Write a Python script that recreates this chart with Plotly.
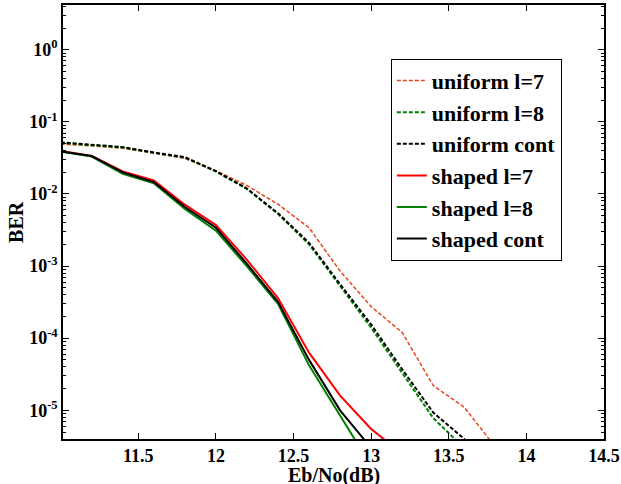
import plotly.graph_objects as go

ebno = [11.0, 11.2, 11.4, 11.6, 11.8, 12.0, 12.2, 12.4, 12.6, 12.8, 13.0, 13.2, 13.4, 13.6, 13.8]

uniform_l7 = [0.049, 0.0465, 0.043, 0.037, 0.031, 0.021, 0.0131, 0.0072, 0.0034, 0.00085, 0.000274, 0.00012, 2.2e-5, 1.1e-5, 3.1e-6]
uniform_l8 = [0.051, 0.0475, 0.044, 0.037, 0.032, 0.0205, 0.0117, 0.0053, 0.0020, 0.00053, 0.00014, 3.3e-5, 7.8e-6, 3.0e-6, 1.0e-6]
uniform_cont = [0.052, 0.048, 0.0446, 0.0376, 0.0324, 0.0207, 0.0119, 0.0054, 0.0021, 0.00056, 0.000155, 3.7e-5, 9.3e-6, 4.0e-6, 1.2e-6]
shaped_l7 = [0.0395, 0.0335, 0.0205, 0.0154, 0.0071, 0.0037, 0.00122, 0.00036, 6.3e-5, 1.6e-5, 5.5e-6, 2.5e-6]
shaped_l8 = [0.0385, 0.033, 0.019, 0.0141, 0.0062, 0.0031, 0.00099, 0.0003, 4.2e-5, 8.3e-6, 1.7e-6]
shaped_cont = [0.039, 0.0335, 0.0199, 0.0146, 0.0066, 0.0034, 0.00107, 0.00032, 5.0e-5, 1.0e-5, 3.0e-6]

x_ticks = [11.5, 12, 12.5, 13, 13.5, 14, 14.5]
x_ticklabels = ["11.5", "12", "12.5", "13", "13.5", "14", "14.5"]
y_exponents = [0, -1, -2, -3, -4, -5]

X_RANGE = [11.015, 14.5]
Y_RANGE = [-5.398, 0.62]

series = [
    ("uniform l=7", uniform_l7, "#e8461e", "4px,2px", 1.5),
    ("uniform l=8", uniform_l8, "#008000", "4px,2px", 2),
    ("uniform cont", uniform_cont, "black", "4px,2px", 2),
    ("shaped l=7", shaped_l7, "#ff0000", "solid", 2),
    ("shaped l=8", shaped_l8, "#008000", "solid", 2),
    ("shaped cont", shaped_cont, "black", "solid", 2),
]

fig = go.Figure()
for name, vals, color, dash, w in series:
    fig.add_trace(go.Scatter(
        x=ebno[:len(vals)], y=vals, mode="lines", name=name,
        line=dict(color=color, dash=dash, width=w),
    ))

y_tickvals = [10.0 ** e for e in y_exponents]
y_ticktext = ["10<sup>%d</sup>" % e for e in y_exponents]

font_family = "Liberation Serif"
fig.update_layout(
    template="none",
    width=621, height=484,
    margin=dict(l=63, r=17, t=5, b=45),
    plot_bgcolor="white", paper_bgcolor="white",
    font=dict(family=font_family, color="black"),
    showlegend=True,
    legend=dict(
        x=0.606, y=0.876, xanchor="left", yanchor="top",
        bgcolor="white", bordercolor="black", borderwidth=1,
        font=dict(family=font_family, size=22, color="black", weight="bold"),
    ),
    xaxis=dict(
        range=X_RANGE, tickmode="array", tickvals=x_ticks, ticktext=x_ticklabels,
        showgrid=False, zeroline=False,
        showline=True, linecolor="black", linewidth=1.5, mirror="allticks",
        ticks="inside", ticklen=6, tickcolor="black", tickwidth=1,
        ticklabelstandoff=0,
        tickfont=dict(family=font_family, size=18, weight="bold"),
        automargin=False,
    ),
    yaxis=dict(
        type="log", range=Y_RANGE, tickmode="array",
        tickvals=y_tickvals, ticktext=y_ticktext,
        showgrid=False, zeroline=False,
        showline=True, linecolor="black", linewidth=1.5, mirror="allticks",
        ticks="inside", ticklen=6, tickcolor="black", tickwidth=1,
        tickfont=dict(family=font_family, size=18, weight="bold"),
        minor=dict(ticks="inside", ticklen=3, tickcolor="black", tickwidth=1,
                   dtick="D1", showgrid=False),
        automargin=False,
    ),
    annotations=[
        dict(text="Eb/No(dB)", xref="paper", yref="paper", x=0.5, y=-0.083,
             xanchor="center", yanchor="middle", showarrow=False,
             font=dict(family=font_family, size=20, weight="bold", color="black")),
        dict(text="BER", xref="paper", yref="paper", x=-0.087, y=0.5,
             xanchor="center", yanchor="middle", showarrow=False, textangle=-90,
             font=dict(family=font_family, size=20, weight="bold", color="black")),
    ],
)

fig.write_html("out.html")
